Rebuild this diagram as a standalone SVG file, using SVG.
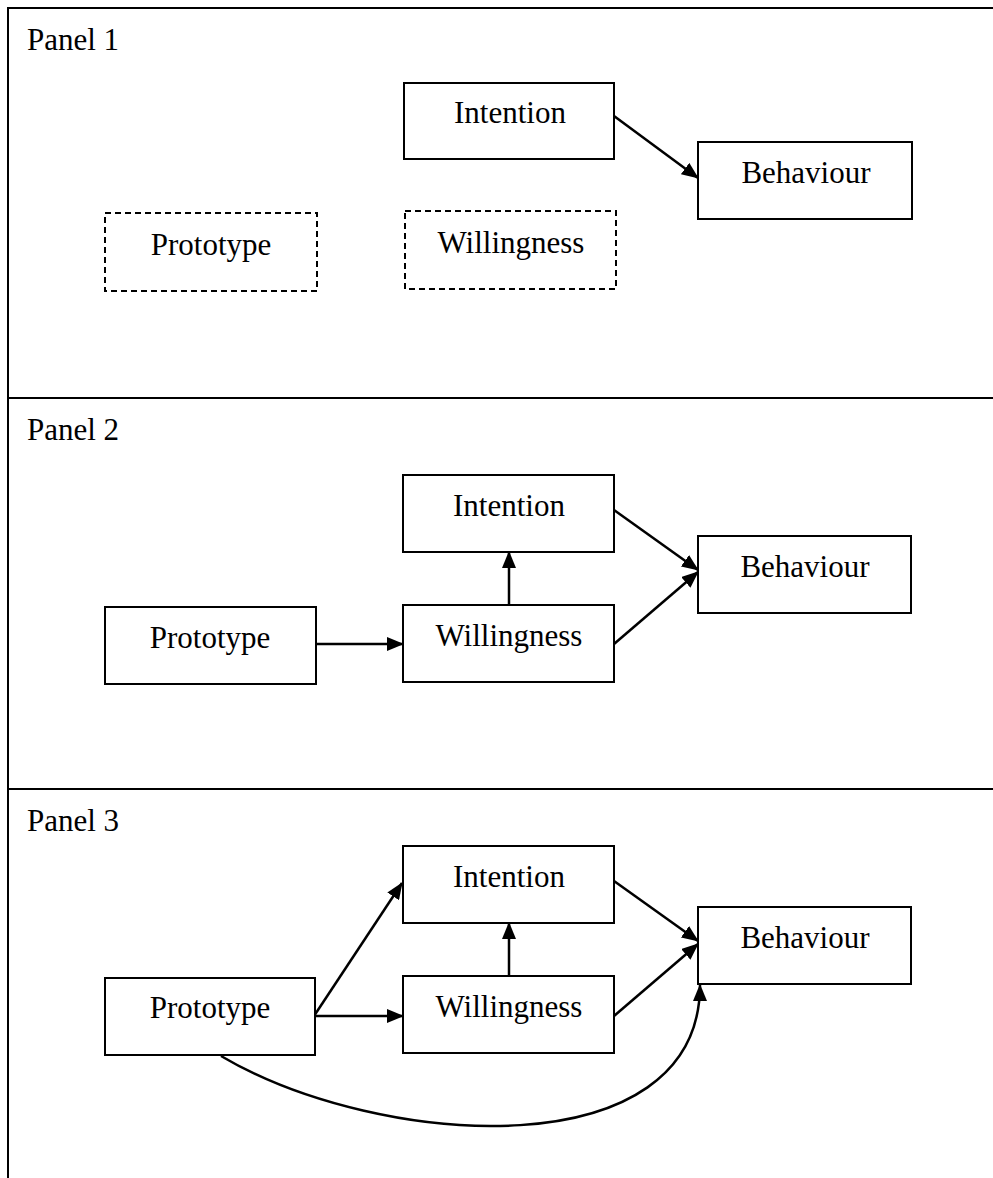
<svg xmlns="http://www.w3.org/2000/svg" width="993" height="1178" viewBox="0 0 993 1178">
<style>
.frame{stroke:#000;stroke-width:2;fill:none}
.box{fill:#fff;stroke:#000;stroke-width:2}
.dash{fill:#fff;stroke:#000;stroke-width:2;stroke-dasharray:6 4}
.lbl{font-family:"Liberation Serif","Times New Roman",serif;font-size:31px;fill:#000;text-anchor:middle}
.pn{font-family:"Liberation Serif","Times New Roman",serif;font-size:31px;fill:#000}
.edge{stroke:#000;stroke-width:2.5;fill:none;marker-end:url(#ah)}
</style>
<defs>
<marker id="ah" markerUnits="userSpaceOnUse" markerWidth="17" markerHeight="14" refX="16" refY="7" orient="auto">
<path d="M0,0 L17,7 L0,14 z" fill="#000"/>
</marker>
</defs>
<g id="frame">
<line class="frame" x1="8" y1="8" x2="993" y2="8"/>
<line class="frame" x1="8" y1="7" x2="8" y2="1178"/>
<line class="frame" x1="8" y1="398" x2="993" y2="398"/>
<line class="frame" x1="8" y1="789" x2="993" y2="789"/>
<text class="pn" x="27" y="50">Panel 1</text>
<text class="pn" x="27" y="440">Panel 2</text>
<text class="pn" x="27" y="831">Panel 3</text>
</g>
<g id="connectors">
<line class="edge" x1="614" y1="116" x2="698" y2="178"/>
<line class="edge" x1="316" y1="644" x2="403" y2="644"/>
<line class="edge" x1="509" y1="605" x2="509" y2="552"/>
<line class="edge" x1="614" y1="510" x2="698" y2="570"/>
<line class="edge" x1="614" y1="644" x2="698" y2="572"/>
<line class="edge" x1="314" y1="1016" x2="402" y2="883"/>
<line class="edge" x1="314" y1="1016" x2="403" y2="1016"/>
<line class="edge" x1="509" y1="976" x2="509" y2="923"/>
<line class="edge" x1="614" y1="881" x2="698" y2="941"/>
<line class="edge" x1="614" y1="1016" x2="698" y2="944"/>
<path class="edge" d="M221,1056 C380,1150 700,1170 700,985"/>
</g>
<g id="p1-intention"><rect class="box" x="404" y="83" width="210" height="76"/><text class="lbl" x="510" y="123">Intention</text></g>
<g id="p1-behaviour"><rect class="box" x="698" y="142" width="214" height="77"/><text class="lbl" x="806" y="183">Behaviour</text></g>
<g id="p1-prototype"><rect class="dash" x="105" y="213" width="212" height="78"/><text class="lbl" x="211" y="255">Prototype</text></g>
<g id="p1-willingness"><rect class="dash" x="405" y="211" width="211" height="78"/><text class="lbl" x="511" y="253">Willingness</text></g>
<g id="p2-intention"><rect class="box" x="403" y="475" width="211" height="77"/><text class="lbl" x="509" y="516">Intention</text></g>
<g id="p2-behaviour"><rect class="box" x="698" y="536" width="213" height="77"/><text class="lbl" x="805" y="577">Behaviour</text></g>
<g id="p2-willingness"><rect class="box" x="403" y="605" width="211" height="77"/><text class="lbl" x="509" y="646">Willingness</text></g>
<g id="p2-prototype"><rect class="box" x="105" y="607" width="211" height="77"/><text class="lbl" x="210" y="648">Prototype</text></g>
<g id="p3-intention"><rect class="box" x="403" y="846" width="211" height="77"/><text class="lbl" x="509" y="887">Intention</text></g>
<g id="p3-behaviour"><rect class="box" x="698" y="907" width="213" height="77"/><text class="lbl" x="805" y="948">Behaviour</text></g>
<g id="p3-willingness"><rect class="box" x="403" y="976" width="211" height="77"/><text class="lbl" x="509" y="1017">Willingness</text></g>
<g id="p3-prototype"><rect class="box" x="105" y="978" width="210" height="77"/><text class="lbl" x="210" y="1018">Prototype</text></g>
</svg>
